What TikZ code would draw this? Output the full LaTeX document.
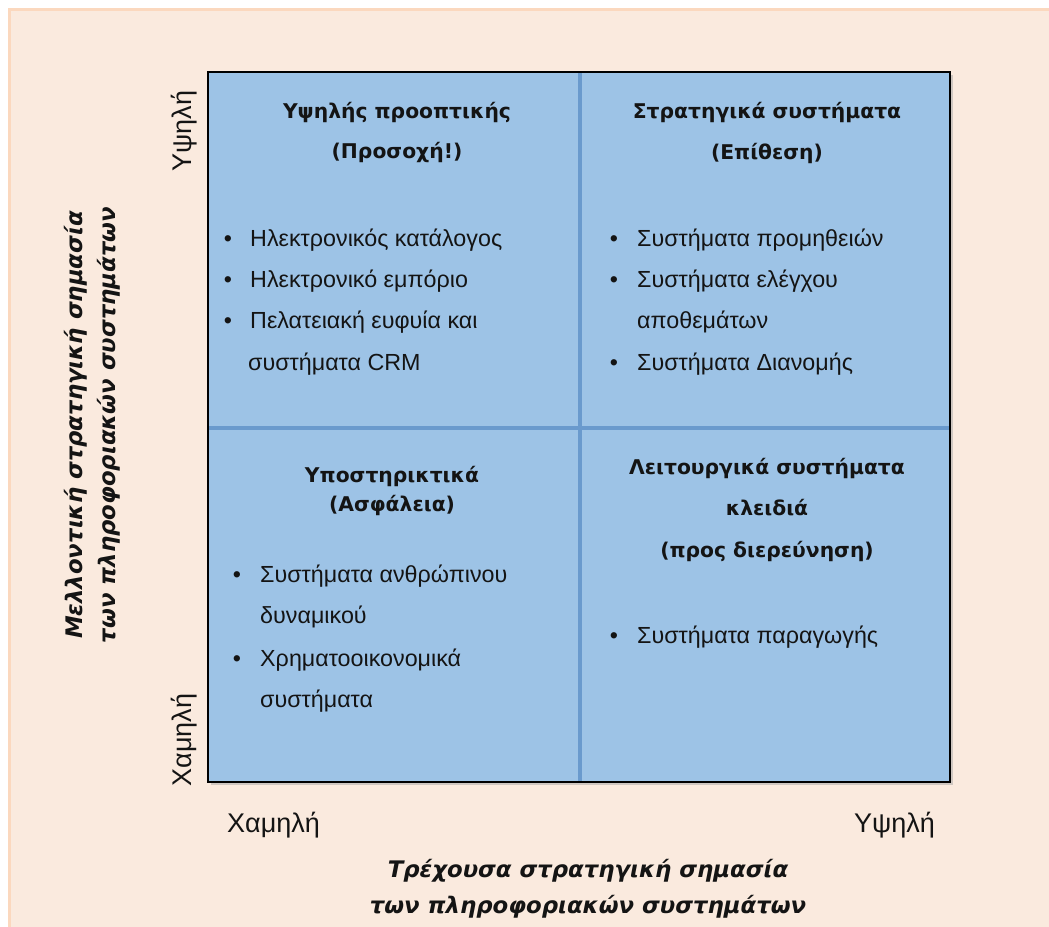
\documentclass[tikz,border=0pt]{standalone}
\usepackage{fontspec}
\setmainfont{Liberation Sans}
\newfontfamily\headfont{DejaVu Sans}
\usetikzlibrary{positioning}

\definecolor{pagebg}{HTML}{FAEADE}
\definecolor{pageedge}{HTML}{FBD8BE}
\definecolor{cellblue}{HTML}{9DC3E6}
\definecolor{splitblue}{HTML}{6A9ACD}
\definecolor{ink}{HTML}{141414}

\tikzset{
  body/.style={inner sep=0pt, text=ink, font=\fontsize{23.3}{27}\selectfont},
  head/.style={inner sep=0pt, text=ink, font=\headfont\bfseries\fontsize{20.3}{24}\selectfont},
  axtitle/.style={inner sep=0pt, text=ink, font=\headfont\bfseries\itshape\fontsize{22.8}{26}\selectfont},
  axmark/.style={inner sep=0pt, text=ink, font=\fontsize{27}{31}\selectfont},
}

% bullet point and a text line at a given baseline
\newcommand\bdot[3]{\node[body, anchor=base] (#1) at (#2,#3) {•};}
\newcommand\bline[4]{\node[body, anchor=base west] (#1) at (#2,#3) {#4};}

\begin{document}
\begin{tikzpicture}[x=1pt,y=-1pt]
\useasboundingbox (0,0) rectangle (1049,926);
\fill[white] (0,0) rectangle (1049,926);
\draw[pageedge, line width=3pt, fill=pagebg] (9,9) rectangle (1055,932);

% matrix frame
\fill[black!35, opacity=0.5] (211,75) rectangle (953,785);
\draw[black, line width=2pt, fill=cellblue] (208,72) rectangle (950,782);
\draw[splitblue, line width=3.5pt] (580,73) -- (580,781);
\draw[splitblue, line width=3.5pt] (209,428) -- (949,428);
\draw[black, line width=2pt] (208,72) rectangle (950,782);

% upper left cell
\node[head, anchor=base] (tlA) at (397,118) {Υψηλής προοπτικής};
\node[head, anchor=base] (tlB) at (397,158) {(Προσοχή!)};
\bdot{tlD1}{228}{246} \bline{tlT1}{250}{246}{Ηλεκτρονικός κατάλογος}
\bdot{tlD2}{228}{287} \bline{tlT2}{250}{287}{Ηλεκτρονικό εμπόριο}
\bdot{tlD3}{228}{328} \bline{tlT3}{250}{328}{Πελατειακή ευφυία και}
\bline{tlT4}{248}{370}{συστήματα CRM}

% upper right cell
\node[head, anchor=base] (trA) at (767,118) {Στρατηγικά συστήματα};
\node[head, anchor=base] (trB) at (767,159) {(Επίθεση)};
\bdot{trD1}{614}{246} \bline{trT1}{637}{246}{Συστήματα προμηθειών}
\bdot{trD2}{614}{287} \bline{trT2}{637}{287}{Συστήματα ελέγχου}
\bline{trT3}{637}{328}{αποθεμάτων}
\bdot{trD4}{614}{370} \bline{trT4}{637}{370}{Συστήματα Διανομής}

% lower left cell
\node[head, anchor=base] (blA) at (392,482) {Υποστηρικτικά};
\node[head, anchor=base] (blB) at (392,511) {(Ασφάλεια)};
\bdot{blD1}{237}{582} \bline{blT1}{260}{582}{Συστήματα ανθρώπινου}
\bline{blT2}{260}{623}{δυναμικού}
\bdot{blD3}{237}{666} \bline{blT3}{260}{666}{Χρηματοοικονομικά}
\bline{blT4}{260}{707}{συστήματα}

% lower right cell
\node[head, anchor=base] (brA) at (767,474) {Λειτουργικά συστήματα};
\node[head, anchor=base] (brB) at (767,515) {κλειδιά};
\node[head, anchor=base] (brC) at (767,557) {(προς διερεύνηση)};
\bdot{brD1}{614}{643} \bline{brT1}{637}{643}{Συστήματα παραγωγής}

% axis marks
\node[axmark, anchor=base, rotate=90] (yHigh) at (191,131) {Υψηλή};
\node[axmark, anchor=base, rotate=90] (yLow) at (191,740) {Χαμηλή};
\node[axmark, anchor=base west] (xLow) at (227,832) {Χαμηλή};
\node[axmark, anchor=base east] (xHigh) at (935,832) {Υψηλή};

% axis titles
\node[axtitle, anchor=base, rotate=90] (yT1) at (82,425) {Μελλοντική στρατηγική σημασία};
\node[axtitle, anchor=base, rotate=90] (yT2) at (115,425) {των πληροφοριακών συστημάτων};
\node[axtitle, anchor=base] (xT1) at (588,877) {Τρέχουσα στρατηγική σημασία};
\node[axtitle, anchor=base] (xT2) at (588,913) {των πληροφοριακών συστημάτων};
\end{tikzpicture}
\end{document}
